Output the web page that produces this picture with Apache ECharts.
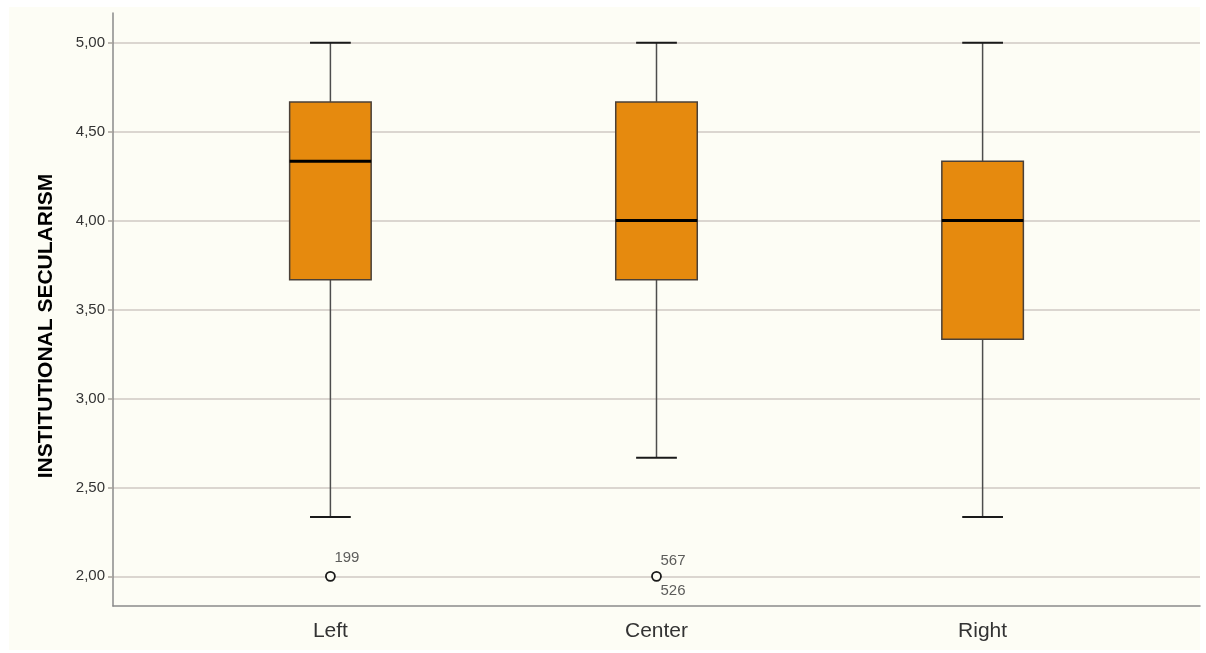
<!DOCTYPE html>
<html>
<head>
<meta charset="utf-8">
<script src="https://cdn.jsdelivr.net/npm/echarts@6/dist/echarts.min.js"></script>
<style>
html,body{margin:0;padding:0;background:#ffffff;}
#chart{width:1206px;height:653px;}
</style>
</head>
<body>
<div id="chart"></div>
<script>
// ---- data ----
const categories = ['Left', 'Center', 'Right'];
const whiskerLow = [2.333, 2.667, 2.333];
const q1 = [3.667, 3.667, 3.333];
const medians = [4.333, 4.0, 4.0];
const q3 = [4.667, 4.667, 4.333];
const whiskerHigh = [5.0, 5.0, 5.0];
const outlierCats = [0, 1];
const outlierValues = [2.0, 2.0];
const outlierIds = [['199'], ['567', '526']];
const yTicks = [2.0, 2.5, 3.0, 3.5, 4.0, 4.5, 5.0];
const yTitle = 'INSTITUTIONAL SECULARISM';

const chart = echarts.init(document.getElementById('chart'), null, {renderer: 'canvas'});

const boxData = categories.map((c, i) => [i, whiskerLow[i], q1[i], medians[i], q3[i], whiskerHigh[i]]);
const outlierData = outlierCats.map((c, i) => [c, outlierValues[i]]);
const labelData = [];
outlierCats.forEach((c, i) => {
  const ids = outlierIds[i];
  ids.forEach((id, k) => {
    let dy;
    if (ids.length === 1) dy = -18;
    else dy = (k === 0) ? -15 : 15;
    labelData.push({
      value: [c, outlierValues[i]],
      label: {show: true, formatter: id, position: 'inside', align: 'left', verticalAlign: 'middle', offset: [4, dy]}
    });
  });
});

function renderBox(params, api) {
  const x = api.value(0);
  const pLo = api.coord([x, api.value(1)]);
  const pQ1 = api.coord([x, api.value(2)]);
  const pMed = api.coord([x, api.value(3)]);
  const pQ3 = api.coord([x, api.value(4)]);
  const pHi = api.coord([x, api.value(5)]);
  const w = api.size([0.25, 0])[0];
  const cx = pMed[0];
  const half = w / 2, capHalf = w / 4;
  const wStyle = {stroke: '#4d4d4d', lineWidth: 1.5};
  const cStyle = {stroke: '#1a1a1a', lineWidth: 2};
  return {
    type: 'group',
    children: [
      {type: 'line', shape: {x1: cx, y1: pHi[1], x2: cx, y2: pQ3[1]}, style: wStyle},
      {type: 'line', shape: {x1: cx, y1: pQ1[1], x2: cx, y2: pLo[1]}, style: wStyle},
      {type: 'line', shape: {x1: cx - capHalf, y1: pHi[1], x2: cx + capHalf, y2: pHi[1]}, style: cStyle},
      {type: 'line', shape: {x1: cx - capHalf, y1: pLo[1], x2: cx + capHalf, y2: pLo[1]}, style: cStyle},
      {type: 'rect', shape: {x: cx - half, y: pQ3[1], width: w, height: pQ1[1] - pQ3[1]},
        style: {fill: '#E68A0E', stroke: '#4a4038', lineWidth: 1.5}},
      {type: 'line', shape: {x1: cx - half, y1: pMed[1], x2: cx + half, y2: pMed[1]},
        style: {stroke: '#000000', lineWidth: 3}}
    ]
  };
}

const option = {
  animation: false,
  backgroundColor: '#ffffff',
  textStyle: {fontFamily: 'Liberation Sans, Arial, sans-serif'},
  graphic: [{
    type: 'rect', z: -10, silent: true,
    shape: {x: 9, y: 7, width: 1191, height: 643},
    style: {fill: '#FDFDF5'}
  }, {
    type: 'text', silent: true,
    x: 46, y: 326, rotation: Math.PI / 2,
    style: {
      text: yTitle, fontSize: 21, fontWeight: 'bold', fill: '#000000',
      fontFamily: 'Liberation Sans, Arial, sans-serif',
      align: 'center', verticalAlign: 'middle'
    }
  }],
  grid: {left: 113, top: 13, right: 6, bottom: 47, containLabel: false},
  xAxis: {
    type: 'value',
    min: -2 / 3,
    max: 8 / 3,
    axisLine: {show: true, onZero: false, lineStyle: {color: '#8a8a8a', width: 1.5}},
    axisTick: {show: false, customValues: [0, 1, 2]},
    splitLine: {show: false},
    axisLabel: {
      customValues: [0, 1, 2],
      formatter: v => categories[Math.round(v)] || '',
      fontSize: 21, color: '#333333', margin: 15
    }
  },
  yAxis: {
    type: 'value',
    min: 11 / 6,
    max: 31 / 6,
    axisLine: {show: true, onZero: false, lineStyle: {color: '#8a8a8a', width: 1.5}},
    axisTick: {show: true, length: 5, customValues: yTicks, lineStyle: {color: '#a8a29c', width: 1.5}},
    splitLine: {show: true, lineStyle: {color: '#cfc9c3', width: 1.5}},
    axisLabel: {
      customValues: yTicks,
      formatter: v => v.toFixed(2).replace('.', ','),
      fontSize: 15, color: '#333333', margin: 8
    }
  },
  series: [
    {
      type: 'custom',
      name: 'box',
      renderItem: renderBox,
      data: boxData,
      encode: {x: 0, y: [1, 2, 3, 4, 5]},
      z: 2
    },
    {
      type: 'scatter',
      name: 'outliers',
      data: outlierData,
      symbol: 'circle',
      symbolSize: 9,
      itemStyle: {color: '#FDFDF5', borderColor: '#1a1a1a', borderWidth: 1.8, opacity: 1},
      z: 3
    },
    {
      type: 'scatter',
      name: 'outlierLabels',
      data: labelData,
      symbolSize: 1,
      itemStyle: {color: 'rgba(0,0,0,0)'},
      label: {fontSize: 15, color: '#333333'},
      z: 4
    }
  ]
};
chart.setOption(option);
</script>
</body>
</html>
